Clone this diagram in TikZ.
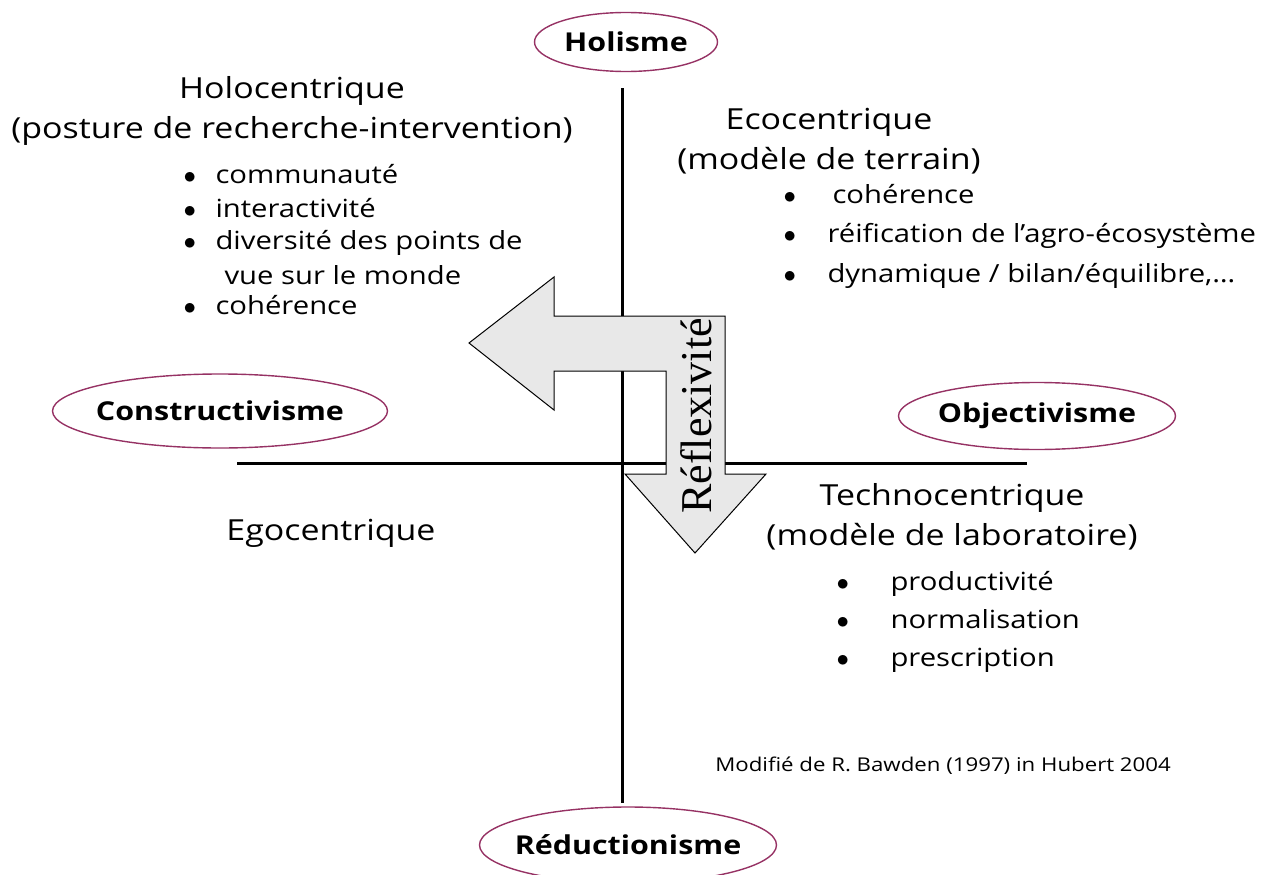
\documentclass[tikz,border=0pt]{standalone}
\usepackage{fontspec}
\setmainfont{Open Sans}[FakeStretch=1.17]
\newfontfamily\serifface{Liberation Serif}
\usetikzlibrary{shapes.geometric}
\definecolor{polecolor}{RGB}{150,50,100}
\newcommand{\bul}{$\bullet$}
\begin{document}
\begin{tikzpicture}[x=1pt,y=-1pt]
	\tikzset{pole/.style = {shape=ellipse,draw=polecolor,line width=1.4pt,inner xsep=-40pt,inner ysep=0pt,font=\fontsize{26}{30}\selectfont\bfseries}}
	\tikzset{title/.style = {align=center,font=\fontsize{29}{40}\selectfont}}
	\tikzset{item/.style = {anchor=base west,font=\fontsize{25}{30}\selectfont}}
	\tikzset{axis/.style = {line width=3pt}}
	\useasboundingbox (0,0) rectangle (1269,875);
	% axes
	\coordinate (top) at (622,88);
	\coordinate (bottom) at (622,803);
	\coordinate (left) at (237,463);
	\coordinate (right) at (1027,463);
	\draw[axis] (top) -- (bottom);
	\draw[axis] (left) -- (right);
	% poles
	\node[pole,minimum width=183,minimum height=59] (holisme) at (626,42) {Holisme};
	\node[pole,minimum width=335,minimum height=74] (constr) at (220,411) {Constructivisme};
	\node[pole,minimum width=277,minimum height=67] (objec) at (1037,416) {Objectivisme};
	\node[pole,minimum width=297,minimum height=76] (reduc) at (628,845) {Réductionisme};
	% reflexivity arrow
	\draw[fill=gray!18,line width=1pt] (469,343) -- (554,277) -- (554,316) -- (725,316) -- (725,474)
		-- (766,474) -- (695,553) -- (625,474) -- (666,474) -- (666,371) -- (554,371) -- (554,410) -- cycle;
	\node[rotate=90,font=\serifface\fontsize{44}{48}\selectfont] (reflex) at (696,416) {Réflexivité};
	% quadrants
	\node[title] (holo) at (292,111) {Holocentrique\\(posture de recherche-intervention)};
	\node[item] (h1) at (180,183) {\makebox[32pt][l]{\bul}communauté};
	\node[item] (h2) at (180,217) {\makebox[32pt][l]{\bul}interactivité};
	\node[item] (h3) at (180,249) {\makebox[32pt][l]{\bul}diversité des points de};
	\node[item] (h4) at (221,284) {vue sur le monde};
	\node[item] (h5) at (180,314) {\makebox[32pt][l]{\bul}cohérence};
	\node[title] (eco) at (829,141) {Ecocentrique\\(modèle de terrain)};
	\node[item] (e1) at (780,203) {\makebox[49pt][l]{\bul}cohérence};
	\node[item] (e2) at (780,242) {\makebox[44pt][l]{\bul}réification de l’agro-écosystème};
	\node[item] (e3) at (780,282) {\makebox[44pt][l]{\bul}dynamique / bilan/équilibre,…};
	\node[title] (techno) at (952,517) {Technocentrique\\(modèle de laboratoire)};
	\node[item] (t1) at (833,590) {\makebox[54pt][l]{\bul}productivité};
	\node[item] (t2) at (833,628) {\makebox[54pt][l]{\bul}normalisation};
	\node[item] (t3) at (833,666) {\makebox[54pt][l]{\bul}prescription};
	\node[title] (ego) at (331,533) {Egocentrique};
	\node[font=\fontsize{19}{22}\selectfont] (source) at (943,766) {Modifié de R. Bawden (1997) in Hubert 2004};
\end{tikzpicture}
\end{document}
